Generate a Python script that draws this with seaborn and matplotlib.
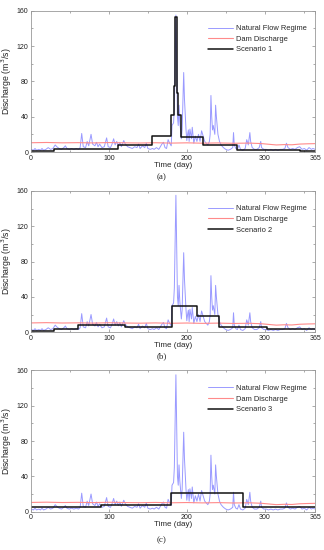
import numpy as np
import pandas as pd
import matplotlib
matplotlib.use("Agg")
import matplotlib.pyplot as plt
import seaborn as sns
from matplotlib.ticker import MultipleLocator

# Natural flow regime (day, m3/s)
nat_days = [0, 3, 5, 7, 10, 12, 14, 16, 19, 22, 25, 28, 31, 33, 36, 39, 42, 44, 46, 49,
            52, 55, 58, 61, 63, 65, 67, 70, 72, 74, 77, 79, 82, 84, 86, 88, 91, 94, 97, 99,
            102, 104, 106, 108, 110, 112, 114, 116, 119, 121, 124, 127, 130, 133, 136, 138,
            140, 143, 146, 148, 150, 153, 156, 158, 161, 164, 166, 168, 170, 172, 174, 176,
            178, 180, 181, 183, 184, 186, 187, 188, 189, 190, 191, 193, 194, 196, 197, 199,
            200, 201, 202, 203, 204, 206, 207, 209, 211, 213, 215, 217, 219, 221, 223, 225,
            227, 229, 230, 231, 232, 233, 234, 236, 237, 238, 240, 242, 244, 247, 250, 253,
            256, 259, 260, 261, 263, 265, 267, 269, 272, 275, 277, 279, 281, 282, 284, 287,
            290, 293, 295, 296, 299, 302, 305, 308, 311, 314, 317, 320, 323, 326, 328, 330,
            333, 336, 339, 342, 345, 348, 351, 354, 357, 360, 362, 365]
nat_flow = [3, 2, 4, 2, 3, 2, 4, 2, 3, 5, 3, 4, 8, 6, 4, 3, 5, 7, 4, 3,
            4, 3, 4, 3, 5, 21, 6, 5, 12, 7, 20, 9, 7, 11, 6, 9, 5, 6, 16, 6,
            5, 9, 15, 8, 12, 7, 11, 6, 13, 9, 6, 5, 4, 6, 5, 9,
            4, 7, 5, 10, 4, 3, 4, 3, 5, 3, 6, 9, 11, 5, 4, 14,
            10, 7, 30, 33, 50, 155, 100, 40, 30, 53, 35, 15, 25, 90, 60, 25,
            13, 20, 25, 12, 26, 15, 28, 10, 18, 12, 20, 12, 24, 18, 12, 10,
            8, 12, 20, 64, 40, 25, 30, 20, 53, 40, 20, 12, 8, 5, 3, 2,
            3, 5, 22, 8, 4, 3, 8, 3, 2, 4, 14, 8, 22, 12, 5, 3,
            3, 5, 12, 5, 3, 3, 2, 3, 2, 3, 2, 3, 3, 4, 10, 5,
            3, 4, 3, 5, 6, 3, 4, 2, 5, 3, 4, 3]

# Dam discharge
dam_days = [0, 20, 40, 60, 80, 100, 120, 140, 160, 180, 200, 220, 240, 260, 280,
            295, 305, 315, 325, 335, 345, 355, 365]
dam_flow = [10.5, 10.8, 10.4, 10.6, 10.3, 10.7, 10.4, 10.2, 10.5, 10.1, 10.4, 10.0,
            10.3, 9.9, 10.1, 9.6, 8.8, 8.0, 8.4, 8.2, 9.0, 9.3, 9.5]

# Scenario step changes (start day, flow)
sc1_days = [0, 29, 111, 155, 180, 183, 185, 187, 189, 193, 221, 264, 345, 365]
sc1_flow = [1.5, 3.8, 8.3, 18, 42, 75, 153, 67, 42, 17, 8.3, 2.5, 1.2, 1.2]

sc2_days = [0, 30, 60, 96, 120, 181, 213, 242, 303, 365]
sc2_flow = [1.5, 3.5, 7.6, 8.7, 5.6, 30, 18, 6, 3.7, 3.7]

sc3_days = [0, 90, 180, 272, 365]
sc3_flow = [5.7, 7.2, 21, 5, 5]

scenarios = [("Scenario 1", sc1_days, sc1_flow, "(a)"),
             ("Scenario 2", sc2_days, sc2_flow, "(b)"),
             ("Scenario 3", sc3_days, sc3_flow, "(c)")]

sns.set_style("ticks")
plt.rcParams["font.family"] = ["Liberation Sans", "DejaVu Sans"]

fig = plt.figure(figsize=(3.24, 5.5), dpi=100)
bottoms = [0.7236, 0.396, 0.0696]
label_y = [1 - 177 / 550, 1 - 356 / 550, 1 - 540 / 550]

for (name, sd, sf, tag), b, ly in zip(scenarios, bottoms, label_y):
    ax = fig.add_axes([0.096, b, 0.877, 0.257])
    sns.lineplot(x=nat_days, y=nat_flow, ax=ax, color="#6f6fff", alpha=0.7,
                 lw=0.7, label="Natural Flow Regime")
    sns.lineplot(x=dam_days, y=dam_flow, ax=ax, color="#ff8a8a", lw=0.8,
                 label="Dam Discharge")
    sns.lineplot(x=sd, y=sf, ax=ax, color="#111111", lw=1.1,
                 drawstyle="steps-post", label=name)
    ax.set_xlim(0, 365)
    ax.set_ylim(0, 160)
    ax.set_xticks([0, 100, 200, 300, 365])
    ax.set_yticks([0, 40, 80, 120, 160])
    ax.xaxis.set_minor_locator(MultipleLocator(50))
    ax.yaxis.set_minor_locator(MultipleLocator(20))
    ax.tick_params(which="both", direction="in", top=True, right=True,
                   labelsize=5, pad=2, color="#888888", labelcolor="#222222")
    ax.tick_params(which="major", length=2.5, width=0.5)
    ax.tick_params(which="minor", length=1.5, width=0.5)
    for s in ax.spines.values():
        s.set_color("#999999")
        s.set_linewidth(0.6)
    ax.set_xlabel("Time (day)", fontsize=5.8, labelpad=0)
    ax.set_ylabel("Discharge (m$^3$/s)", fontsize=6.3, labelpad=2)
    leg = ax.legend(loc="upper right", bbox_to_anchor=(0.98, 0.92), frameon=False,
                    fontsize=5.4, handlelength=3.3, handletextpad=0.4,
                    labelspacing=0.45, borderaxespad=0)
    fig.text(0.5, ly, tag, ha="center", va="center", fontsize=6.5,
             family=["Liberation Serif", "DejaVu Serif"])

fig.savefig("out.png", dpi=100)
